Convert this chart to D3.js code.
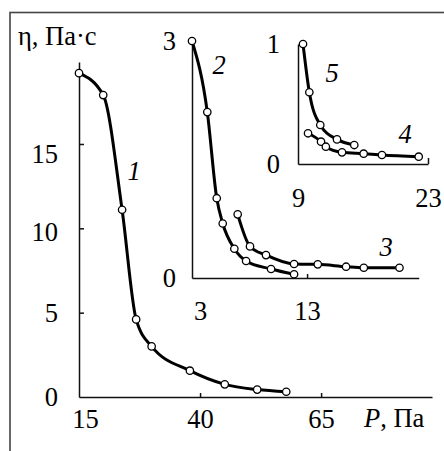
<!DOCTYPE html>
<html lang='ru'>
<head>
  <meta charset='UTF-8'>
  <title>Вязкость</title>
  <style>
    * { margin: 0; padding: 0; }
    body { background: #fff; }
    #chart { width: 444px; height: 451px; }
  </style>
</head>
<body>
<script src='https://cdn.jsdelivr.net/npm/d3@7'></script>
<div id='chart'></div>
<script>
  // curve 1 (main chart)
  const p1 = [15, 20.0, 23.9, 26.8, 30.0, 37.9, 45.1, 51.8, 57.8]
  const eta1 = [19.2, 17.9, 11.1, 4.6, 3.0, 1.56, 0.75, 0.44, 0.31]
  // curves 2, 3 (first inset)
  const p2 = [3.0, 4.33, 5.15, 5.67, 6.68, 7.7, 9.87, 11.87]
  const eta2 = [3.0, 2.1, 1.01, 0.69, 0.37, 0.215, 0.114, 0.047]
  const p3 = [6.97, 8.04, 9.43, 11.87, 13.93, 16.39, 17.93, 21.03]
  const eta3 = [0.806, 0.40, 0.29, 0.177, 0.173, 0.143, 0.13, 0.13]
  // curves 4, 5 (second inset)
  const p4 = [10.08, 11.48, 12.0, 13.74, 16.07, 18.04, 22.0]
  const eta4 = [0.256, 0.186, 0.144, 0.097, 0.086, 0.075, 0.061]
  const p5 = [9.54, 10.22, 11.4, 13.2, 15.06]
  const eta5 = [1.0, 0.598, 0.325, 0.205, 0.158]

  const mainXTicks = [15, 40, 65]
  const mainYTicks = [0, 5, 10, 15]
  const insAXTicks = [3, 13]
  const insAYTicks = [0, 3]
  const insBXTicks = [9, 23]
  const insBYTicks = [0, 1]

  const FONT = 'Liberation Serif'
  const zip = (xs, ys) => xs.map((x, i) => ({ x: x, y: ys[i] }))

  let svg = d3.select('#chart')
  .append('svg')
  .attr('width', 444)
  .attr('height', 451)
  .attr('font-family', FONT)
  .attr('font-size', 26.5)

  svg.append('rect')
  .attr('width', 444).attr('height', 451).attr('fill', '#fff')

  // рамка
  svg.append('rect')
  .attr('x', 10).attr('y', 12.5)
  .attr('width', 460).attr('height', 460)
  .attr('fill', 'none')
  .attr('stroke', '#444')
  .attr('stroke-width', 1.6)

  function panel (o) {
    let x = d3.scaleLinear().domain(o.xd).range(o.xr)
    let y = d3.scaleLinear().domain(o.yd).range(o.yr)
    let g = svg.append('g')

    let ax = g.append('g')
    .attr('transform', 'translate(0,' + o.yr[0] + ')')
    .call(d3.axisBottom(x).tickValues(o.xt).tickFormat(d3.format('d'))
      .tickSizeInner(-o.xtick).tickSizeOuter(0).tickPadding(o.xpad))
    let ay = g.append('g')
    .attr('transform', 'translate(' + o.xr[0] + ',0)')
    .call(d3.axisLeft(y).tickValues(o.yt).tickFormat(d3.format('d'))
      .tickSizeInner(-o.ytick).tickSizeOuter(0).tickPadding(o.ypad))

    g.selectAll('.domain, .tick line').attr('stroke', '#111').attr('stroke-width', 1.5)
    g.selectAll('g').attr('font-family', FONT).attr('font-size', 26.5)
    g.selectAll('.tick text').attr('fill', '#000')
    ax.select('.tick text').attr('dx', o.dx0 || 0)
    if (o.ydy) ay.selectAll('.tick text').attr('transform', (d, i) => 'translate(0,' + o.ydy[i] + ')')
    ax.select('.tick line').remove()
    ay.select('.tick line').remove()

    let line = d3.line()
    .x(d => x(d.x))
    .y(d => y(d.y))
    .curve(d3.curveMonotoneX)

    o.series.forEach(s => {
      g.append('path')
      .attr('d', line(s))
      .attr('fill', 'none')
      .attr('stroke', '#000')
      .attr('stroke-width', 3)
      .attr('stroke-linejoin', 'round')
      g.selectAll(null)
      .data(s)
      .enter()
      .append('circle')
      .attr('cx', d => x(d.x))
      .attr('cy', d => y(d.y))
      .attr('r', 3.7)
      .attr('fill', '#fff')
      .attr('stroke', '#000')
      .attr('stroke-width', 1.3)
    })
  }

  panel({
    xd: [15, 87.9], xr: [79, 432], yd: [0, 19.86], yr: [397, 62],
    xt: mainXTicks, yt: mainYTicks, xtick: 4, ytick: 5, xpad: 12, ypad: 21, dx0: 6,
    ydy: [0, 0, 4, 10],
    series: [zip(p1, eta1)]
  })
  panel({
    xd: [3, 22.7], xr: [192, 418.7], yd: [0, 3], yr: [278, 41],
    xt: insAXTicks, yt: insAYTicks, xtick: 4, ytick: 0, xpad: 23, ypad: 16, dx0: 8,
    series: [zip(p2, eta2), zip(p3, eta3)]
  })
  panel({
    xd: [9, 23], xr: [298, 428], yd: [0, 1], yr: [164, 44],
    xt: insBXTicks, yt: insBYTicks, xtick: 6, ytick: 0, xpad: 24, ypad: 18,
    series: [zip(p4, eta4), zip(p5, eta5)]
  })

  // подписи кривых
  const curveLabels = [['1', 134, 180], ['2', 219, 74], ['3', 386, 256], ['4', 405, 143], ['5', 332, 82]]
  svg.selectAll('.clab')
  .data(curveLabels)
  .enter()
  .append('text')
  .attr('class', 'clab')
  .attr('x', d => d[1])
  .attr('y', d => d[2])
  .attr('text-anchor', 'middle')
  .attr('font-style', 'italic')
  .text(d => d[0])

  // подписи осей
  svg.append('text').attr('x', 18).attr('y', 45)
  .text('η, Па·с')
  let xl = svg.append('text').attr('x', 364).attr('y', 427)
  xl.append('tspan').attr('font-style', 'italic').text('P')
  xl.append('tspan').text(', Па')
</script>
</body>
</html>
